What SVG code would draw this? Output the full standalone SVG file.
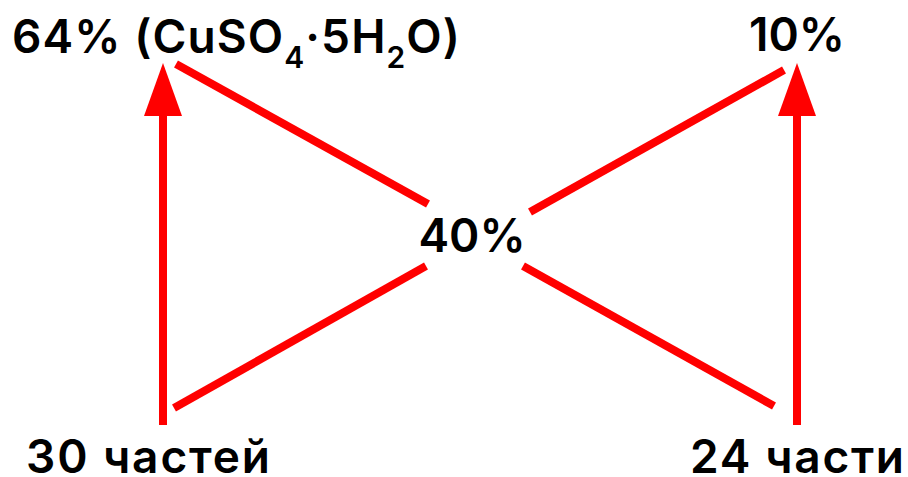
<svg xmlns="http://www.w3.org/2000/svg" width="908" height="477" viewBox="0 0 908 477">
<style>
.t{font-family:Inter,"Open Sans","Liberation Sans",sans-serif;font-weight:600;font-size:46px;fill:#000}
.s{font-size:30px}
.l{stroke:#ff0000;stroke-width:8;fill:none}
</style>
<rect width="908" height="477" fill="#fff"/>
<g id="connectors">
<line class="l" x1="163" y1="425" x2="163" y2="100"/>
<path d="M163,63 L182,116 L144,116 Z" fill="#ff0000"/>
<line class="l" x1="797" y1="425" x2="797" y2="100"/>
<path d="M797,63 L816,116 L778,116 Z" fill="#ff0000"/>
<line class="l" x1="176" y1="64" x2="428" y2="204"/>
<line class="l" x1="174" y1="408" x2="426" y2="266"/>
<line class="l" x1="530" y1="212" x2="784" y2="70"/>
<line class="l" x1="523" y1="266" x2="774" y2="406"/>
</g>
<g id="n-top-left"><text class="t" x="12" y="53" letter-spacing="1.1">64% (CuSO<tspan class="s" dy="15">4</tspan><tspan dy="-15">·5H</tspan><tspan class="s" dy="15">2</tspan><tspan dy="-15">O)</tspan></text></g>
<g id="n-top-right"><text class="t" x="797" y="51" text-anchor="middle">10%</text></g>
<g id="n-center"><text class="t" x="472" y="252" text-anchor="middle">40%</text></g>
<g id="n-bottom-left"><text class="t" x="26" y="473" textLength="244" lengthAdjust="spacing">30 частей</text></g>
<g id="n-bottom-right"><text class="t" x="690" y="473" textLength="214" lengthAdjust="spacing">24 части</text></g>
</svg>
